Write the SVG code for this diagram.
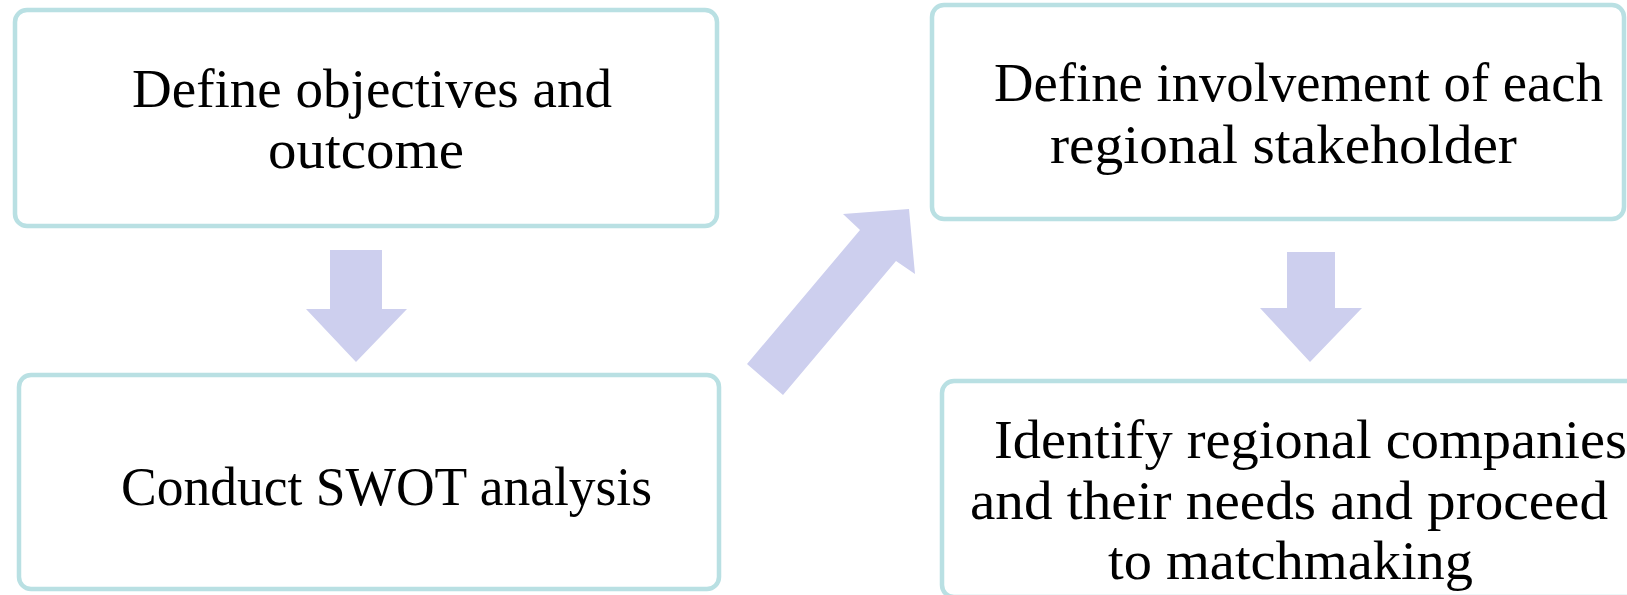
<svg xmlns="http://www.w3.org/2000/svg" width="1627" height="595" viewBox="0 0 1627 595">
<style>
.box{fill:#ffffff;stroke:#b9e0e3;stroke-width:4.5}
.arr{fill:#cdcfee}
.t{font-family:"Liberation Serif","DejaVu Serif",serif;font-size:54px;fill:#000}
</style>
<rect width="1627" height="595" fill="#ffffff"/>
<g id="connectors">
<polygon class="arr" points="330,250 382,250 382,309 407,309 356,362 306,309 330,309"/>
<polygon class="arr" points="747,364 783,395 896,261 915,274 909,209 843,214 860,230"/>
<polygon class="arr" points="1287,252 1335,252 1335,308 1362,308 1310,362 1260,308 1287,308"/>
</g>
<g id="node1">
<rect class="box" x="15" y="10" width="702" height="216" rx="12"/>
<text class="t" x="132" y="107" textLength="480" lengthAdjust="spacingAndGlyphs">Define objectives and</text>
<text class="t" x="268" y="168" textLength="196" lengthAdjust="spacingAndGlyphs">outcome</text>
</g>
<g id="node2">
<rect class="box" x="19" y="375" width="700" height="214" rx="12"/>
<text class="t" x="121" y="505" textLength="531" lengthAdjust="spacingAndGlyphs">Conduct SWOT analysis</text>
</g>
<g id="node3">
<rect class="box" x="932" y="5" width="692" height="214" rx="12"/>
<text class="t" x="994" y="101" textLength="609" lengthAdjust="spacingAndGlyphs">Define involvement of each</text>
<text class="t" x="1050" y="163" textLength="467" lengthAdjust="spacingAndGlyphs">regional stakeholder</text>
</g>
<g id="node4">
<rect class="box" x="942" y="381" width="700" height="216" rx="12"/>
<text class="t" x="994" y="458" textLength="633" lengthAdjust="spacingAndGlyphs">Identify regional companies</text>
<text class="t" x="970" y="519" textLength="638" lengthAdjust="spacingAndGlyphs">and their needs and proceed</text>
<text class="t" x="1108" y="579" textLength="365" lengthAdjust="spacingAndGlyphs">to matchmaking</text>
</g>
</svg>
